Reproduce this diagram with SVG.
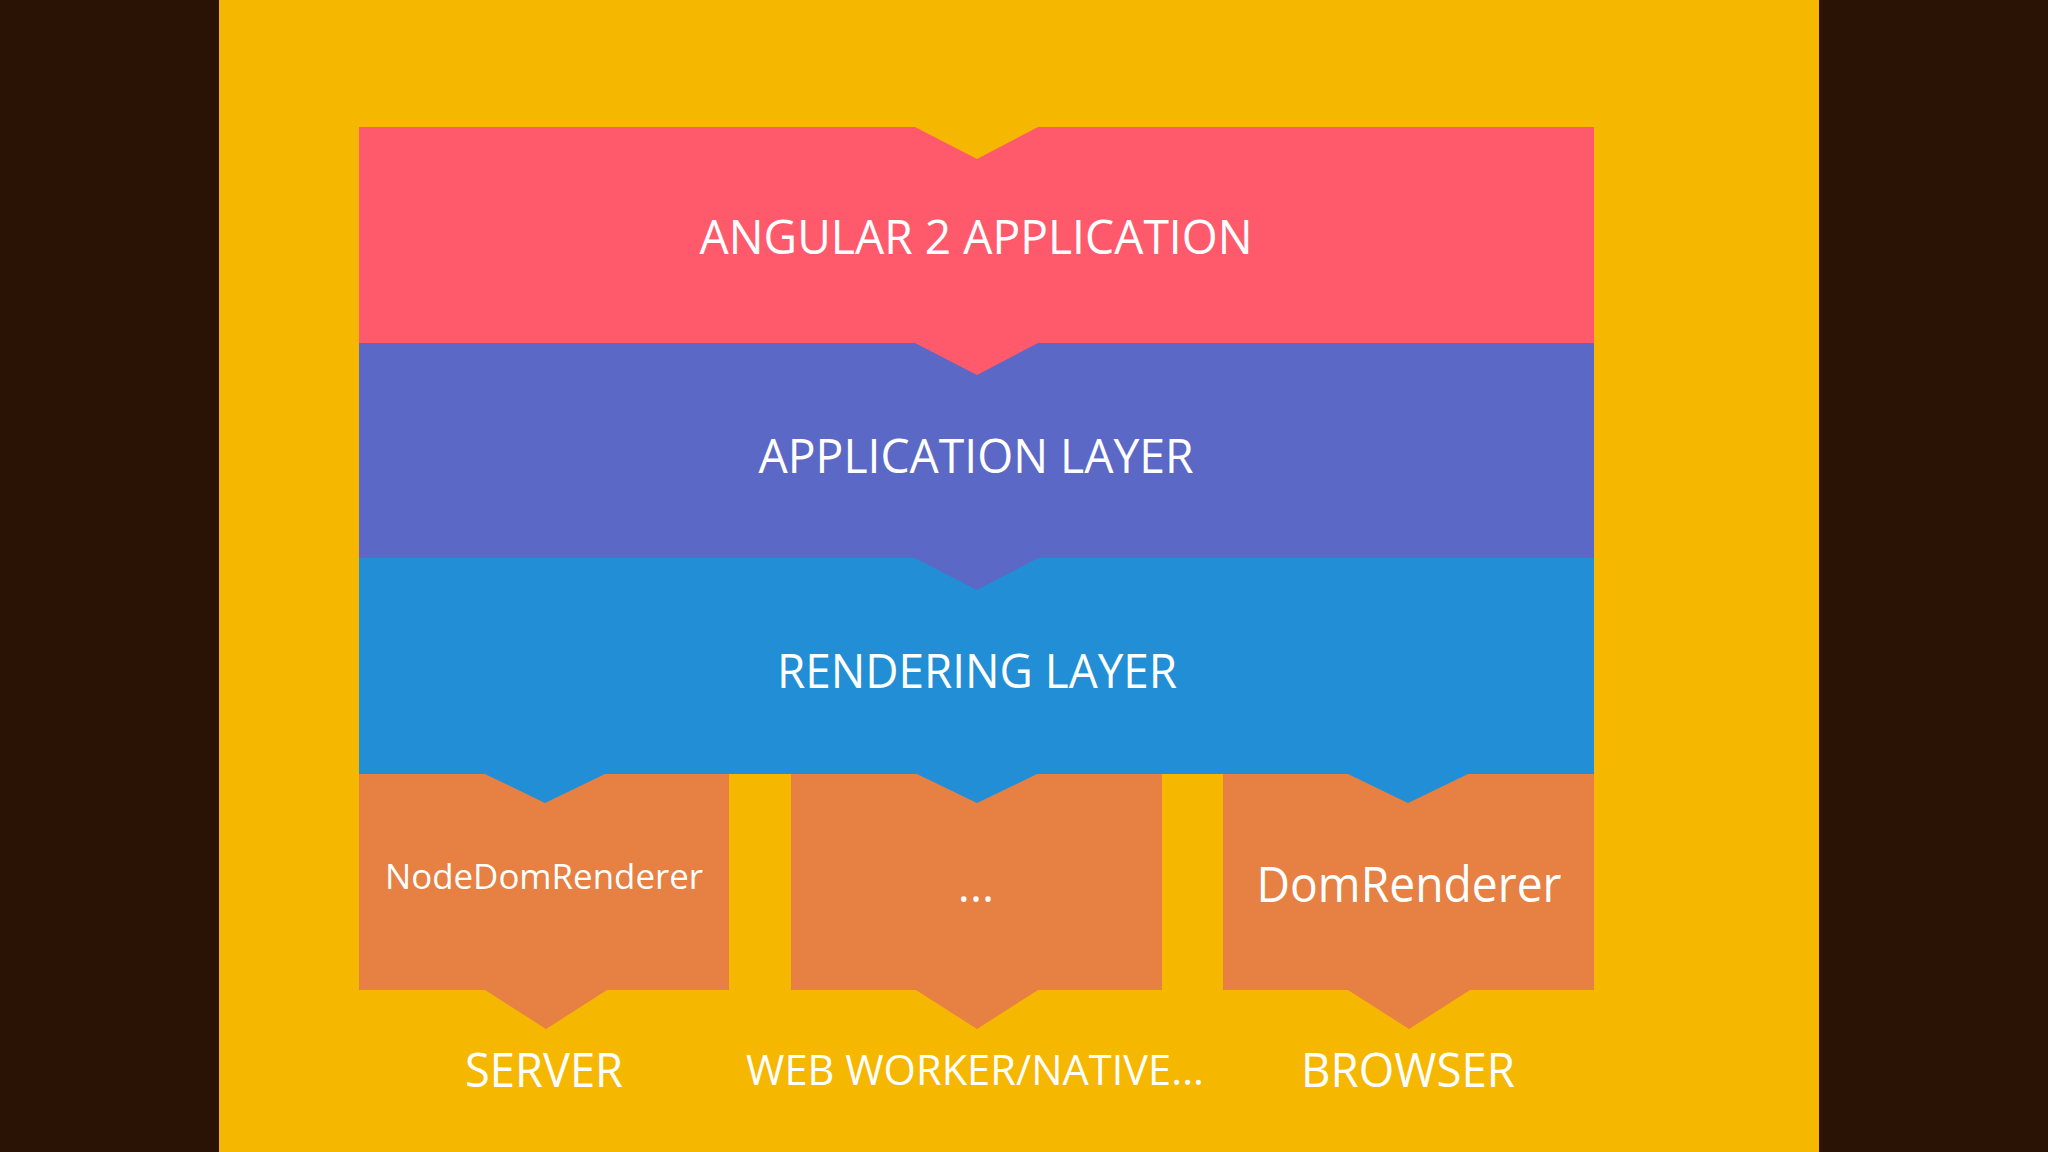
<svg xmlns="http://www.w3.org/2000/svg" width="2048" height="1152" viewBox="0 0 2048 1152">
<style>
  .t { font-family: "Open Sans", "Liberation Sans", sans-serif; fill: #ffffff; text-anchor: middle; }
  .big { font-size: 48px; }
  .red { fill: #FF5A6C; }
  .pur { fill: #5C68C5; }
  .blu { fill: #218ED6; }
  .org { fill: #E68043; }
  .yel { fill: #F6B700; }
</style>
<rect x="0" y="0" width="2048" height="1152" fill="#2A1205"/>
<rect x="219" y="0" width="1600" height="1152" class="yel"/>

<g id="angular-app">
  <rect x="359" y="127" width="1235" height="216" class="red"/>
  <polygon points="915,127 977,159 1038,127" class="yel"/>
  <text x="976" y="254" class="t big" textLength="553" lengthAdjust="spacingAndGlyphs">ANGULAR 2 APPLICATION</text>
</g>

<g id="application-layer">
  <rect x="359" y="343" width="1235" height="215" class="pur"/>
  <text x="976" y="473" class="t big" textLength="435" lengthAdjust="spacingAndGlyphs">APPLICATION LAYER</text>
</g>

<g id="rendering-layer">
  <rect x="359" y="558" width="1235" height="216" class="blu"/>
  <text x="977" y="688" class="t big" textLength="400" lengthAdjust="spacingAndGlyphs">RENDERING LAYER</text>
</g>

<g id="node-dom-renderer">
  <rect x="359" y="774" width="370" height="216" class="org"/>
  <text x="544" y="889" class="t" font-size="35" textLength="318" lengthAdjust="spacingAndGlyphs">NodeDomRenderer</text>
</g>

<g id="other-renderer">
  <rect x="791" y="774" width="371" height="216" class="org"/>
  <text x="976" y="902" class="t" font-size="46">...</text>
</g>

<g id="dom-renderer">
  <rect x="1223" y="774" width="371" height="216" class="org"/>
  <text x="1409" y="902" class="t" font-size="49" textLength="305" lengthAdjust="spacingAndGlyphs">DomRenderer</text>
</g>

<g id="server">
  <text x="544" y="1087" class="t" font-size="47" textLength="158" lengthAdjust="spacingAndGlyphs">SERVER</text>
</g>
<g id="web-worker">
  <text x="975" y="1085" class="t" font-size="42" textLength="458" lengthAdjust="spacingAndGlyphs">WEB WORKER/NATIVE...</text>
</g>
<g id="browser">
  <text x="1408" y="1087" class="t" font-size="47" textLength="214" lengthAdjust="spacingAndGlyphs">BROWSER</text>
</g>

<g id="connectors">
  <polygon points="915,343 977,375 1038,343" class="red"/>
  <polygon points="915,558 977,590 1038,558" class="pur"/>
  <polygon points="485,774 545,803 605,774" class="blu"/>
  <polygon points="917,774 977,803 1037,774" class="blu"/>
  <polygon points="1348,774 1408,803 1468,774" class="blu"/>
  <polygon points="485,990 546,1029 607,990" class="org"/>
  <polygon points="916,990 977,1029 1038,990" class="org"/>
  <polygon points="1348,990 1409,1029 1470,990" class="org"/>
</g>
</svg>
